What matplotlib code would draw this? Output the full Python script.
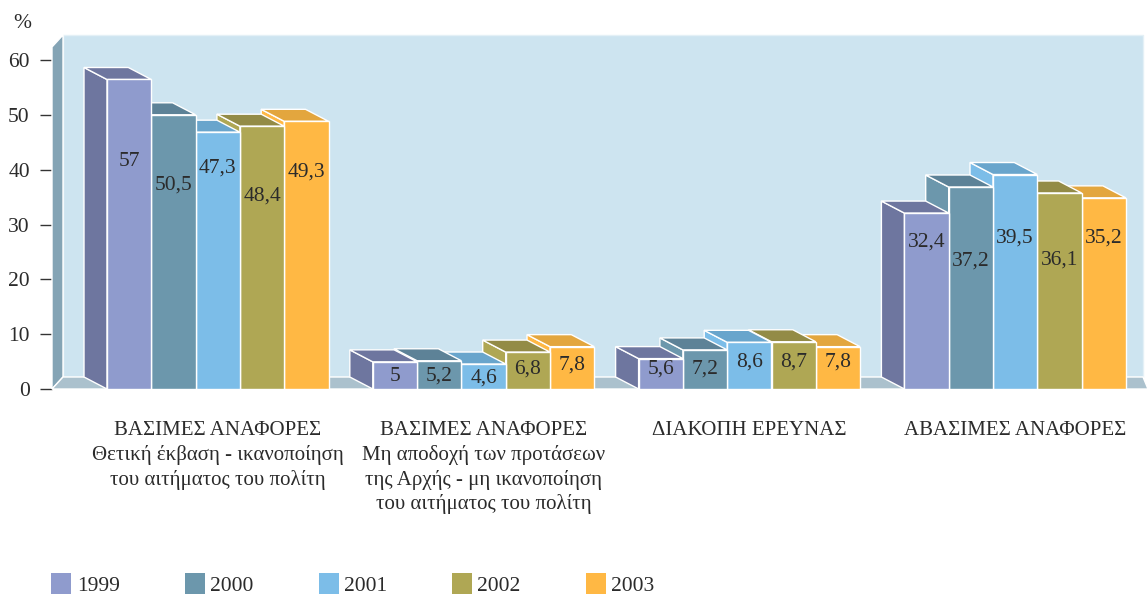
import numpy as np
import matplotlib
matplotlib.use('Agg')
import matplotlib.pyplot as plt
from matplotlib.patches import Polygon, Patch

# data
years = ['1999', '2000', '2001', '2002', '2003']
categories = ['ΒΑΣΙΜΕΣ ΑΝΑΦΟΡΕΣ\nΘετική έκβαση - ικανοποίηση\nτου αιτήματος του πολίτη',
              'ΒΑΣΙΜΕΣ ΑΝΑΦΟΡΕΣ\nΜη αποδοχή των προτάσεων\nτης Αρχής - μη ικανοποίηση\nτου αιτήματος του πολίτη',
              'ΔΙΑΚΟΠΗ ΕΡΕΥΝΑΣ',
              'ΑΒΑΣΙΜΕΣ ΑΝΑΦΟΡΕΣ']
values_1999 = [57, 5, 5.6, 32.4]
values_2000 = [50.5, 5.2, 7.2, 37.2]
values_2001 = [47.3, 4.6, 8.6, 39.5]
values_2002 = [48.4, 6.8, 8.7, 36.1]
values_2003 = [49.3, 7.8, 7.8, 35.2]
series = [values_1999, values_2000, values_2001, values_2002, values_2003]
y_ticks = [0, 10, 20, 30, 40, 50, 60]

# colours per year
front = ['#8F9BCD', '#6C97AC', '#7CBDE8', '#AFA754', '#FFB844']
side = ['#6E769F', '#6C97AC', '#7CBDE8', '#AFA754', '#FFB844']
top = ['#6E769F', '#5D8297', '#69A5CC', '#938B46', '#E3A63E']

# how far the value labels sit below the bar top, in pixels (one row per year)
label_drop = [[82, 15, 10, 29],
              [70, 15, 19, 74],
              [36, 14, 20, 64],
              [70, 17, 20, 67],
              [51, 18, 15, 40]]

plt.rcParams['font.family'] = ['Liberation Serif', 'DejaVu Serif']
W, H = 1148, 595
fig = plt.figure(figsize=(W / 100, H / 100), dpi=100)
ax = fig.add_axes([52 / W, (H - 389) / H, (W - 52) / W, (389 - 35) / H])

bar_px = 44.3
val_px = 5.43
ax.set_xlim(-55 / bar_px, (W - 107) / bar_px)
ax.set_ylim(0, (389 - 35) / val_px)
for s in ax.spines.values():
    s.set_visible(False)

# depth of the fake 3d boxes, in data units
dx = 23 / bar_px
dy = 12 / val_px

# walls and floor
x0, x1 = ax.get_xlim()
y1 = ax.get_ylim()[1]
wall_dx = 11 / bar_px
ax.add_patch(Polygon([(x0 + wall_dx, dy), (x1 - 5 / bar_px, dy), (x1 - 5 / bar_px, y1), (x0 + wall_dx, y1)],
                     fc='#CDE4F0', ec='#E4F0F6', lw=1, zorder=1, clip_on=False))
ax.add_patch(Polygon([(x0, 0), (x0 + wall_dx, dy), (x0 + wall_dx, y1), (x0, y1 - dy)],
                     fc='#84A4B5', ec='white', lw=1, zorder=2, clip_on=False))
ax.add_patch(Polygon([(x0, 0), (x0 + wall_dx, dy), (x1 - 5 / bar_px, dy), (x1, 0)],
                     fc='#ABC1CD', ec='white', lw=1, zorder=2, clip_on=False))

# sides and tops go right to left (a top covers the next bar's side),
# all of them behind the front faces
z = 3
group_centres = []
for i in range(len(categories)):
    start = i * 6
    group_centres.append(start + 2.5)
    for j in reversed(range(len(years))):
        v = series[j][i]
        x = start + j
        ax.add_patch(Polygon([(x, 0), (x - dx, dy), (x - dx, v + dy), (x, v)],
                             fc=side[j], ec='white', lw=1, zorder=z, clip_on=False))
        ax.add_patch(Polygon([(x, v), (x - dx, v + dy), (x + 1 - dx, v + dy), (x + 1, v)],
                             fc=top[j], ec='white', lw=1, zorder=z, clip_on=False))
        ax.bar(x, v, width=1, align='edge', color=front[j], edgecolor='white', linewidth=1, zorder=60)
        ax.annotate(str(v).replace('.', ','), (x + 0.5, v), xytext=(0, -label_drop[j][i]),
                    textcoords='offset pixels', ha='center', va='center', fontsize=15.5,
                    color='#2b2b2b', zorder=100)
        z += 1

# the tick marks run a little wider apart than the bars do
tick_scale = 5.48 / val_px
ax.set_yticks([t * tick_scale for t in y_ticks])
ax.set_yticklabels([str(t) for t in y_ticks], fontsize=15.5, color='#2b2b2b')
ax.tick_params(axis='y', length=9, width=1, color='#333333', pad=7)

ax.set_xticks(group_centres)
ax.set_xticklabels([''] * len(group_centres))
ax.tick_params(axis='x', length=0)
for c, label in zip(group_centres, categories):
    ax.annotate(label, (c, 0), xytext=(0, -32), textcoords='offset pixels', ha='center', va='top',
                fontsize=15, color='#2b2b2b', linespacing=1.32, annotation_clip=False)

fig.text(22 / W, 1 - 23 / H, '%', fontsize=15.5, color='#2b2b2b', ha='center', va='center')

handles = [Patch(fc=c, ec='none') for c in front]
fig.legend(handles, years, ncol=5, frameon=False, loc='lower left', bbox_to_anchor=(45 / W, -7 / H),
           fontsize=15.5, handlelength=0.93, handleheight=1.1, handletextpad=0.25,
           columnspacing=3.02, labelcolor='#2b2b2b', borderaxespad=0, borderpad=0.3)

fig.savefig('out.png', dpi=100)
